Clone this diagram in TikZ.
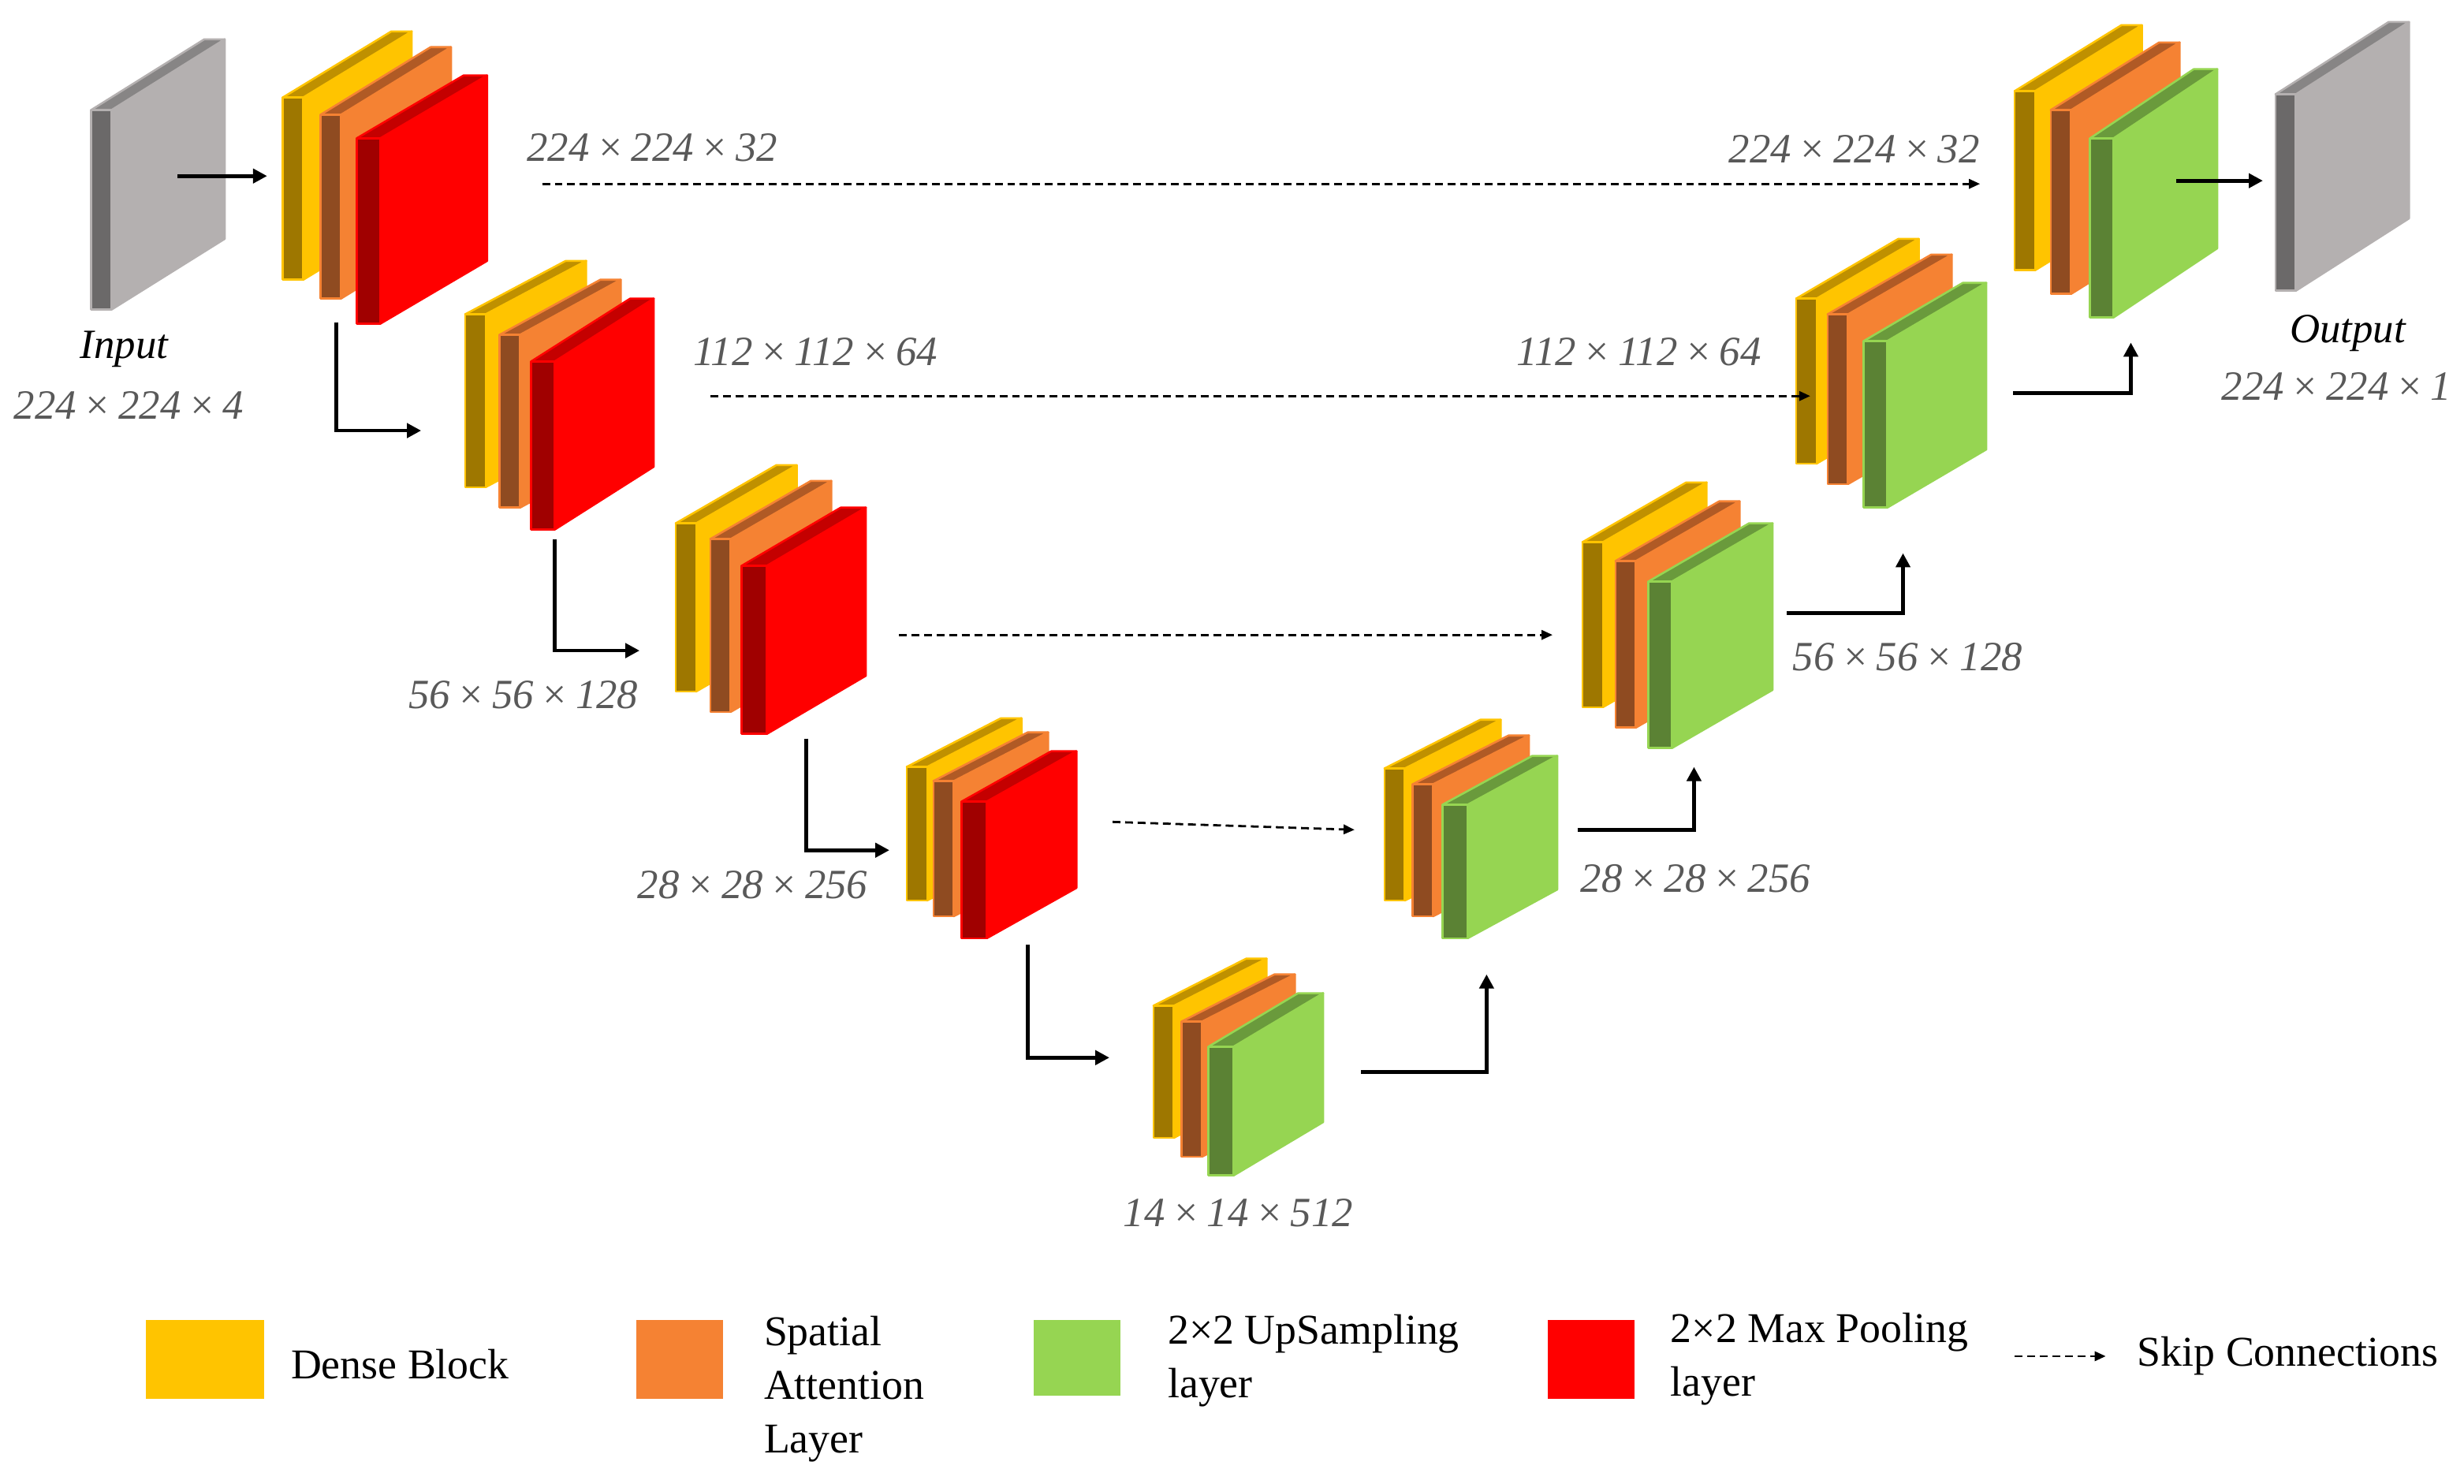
\documentclass[tikz,border=0pt]{standalone}
\usepackage{fontspec}
\setmainfont{Liberation Serif}
\usetikzlibrary{arrows.meta}
\definecolor{yelS}{HTML}{FFC400}\definecolor{yelF}{HTML}{9E7700}\definecolor{yelT}{HTML}{BF9000}
\definecolor{oraS}{HTML}{F58233}\definecolor{oraF}{HTML}{8F4B21}\definecolor{oraT}{HTML}{B05A25}
\definecolor{redS}{HTML}{FF0000}\definecolor{redF}{HTML}{A00000}\definecolor{redT}{HTML}{C40000}
\definecolor{grnS}{HTML}{96D552}\definecolor{grnF}{HTML}{5B8234}\definecolor{grnT}{HTML}{6A9A3C}
\definecolor{gryS}{HTML}{B4B0B0}\definecolor{gryF}{HTML}{6B6969}\definecolor{gryT}{HTML}{878585}
\definecolor{lbl}{HTML}{595959}
% #1 x, #2 ytop, #3 t, #4 h, #5 dx, #6 dy, #7 colour prefix
\newcommand\slab[7]{%
  \filldraw[draw=#7S,fill=#7S,line width=1.3pt,line join=round] (#1+#3,#2) -- (#1+#3+#5,#2-#6) -- (#1+#3+#5,#2+#4-#6) -- (#1+#3,#2+#4) -- cycle;
  \filldraw[draw=#7S,fill=#7T,line width=1.3pt,line join=round] (#1,#2) -- (#1+#3,#2) -- (#1+#3+#5,#2-#6) -- (#1+#5,#2-#6) -- cycle;
  \filldraw[draw=#7S,fill=#7F,line width=1.3pt,line join=round] (#1,#2) rectangle (#1+#3,#2+#4);
}
\begin{document}
\begin{tikzpicture}[x=1pt,y=-1pt,
  flow/.style={-{Triangle[length=9pt,width=9pt]},line width=2.4pt},
  skip/.style={-{Triangle[length=7pt,width=6pt]},line width=1.4pt,dash pattern=on 5pt off 3pt},
  dim/.style={font=\itshape\fontsize{26.5}{28}\selectfont,text=lbl,inner sep=0pt},
  leg/.style={font=\fontsize{27}{34}\selectfont,inner sep=0pt,align=left,anchor=west}]
\useasboundingbox (0,0) rectangle (1568,944);
% input / output
\slab{58}{70}{13}{127}{72}{45}{gry}
\slab{1448}{60}{13}{125}{72}{46}{gry}
% encoder
\slab{180}{62}{13}{116}{69}{42}{yel}
\slab{204}{73}{13}{117}{70}{43}{ora}
\slab{227}{88}{15}{118}{68}{40}{red}
\slab{296}{200}{13}{110}{64}{34}{yel}
\slab{318}{213}{13}{110}{64}{35}{ora}
\slab{338}{230}{15}{107}{63}{40}{red}
\slab{430}{333}{13}{107}{64}{37}{yel}
\slab{452}{343}{13}{110}{64}{37}{ora}
\slab{472}{360}{16}{107}{63}{37}{red}
\slab{577}{488}{13}{85}{60}{31}{yel}
\slab{594}{497}{13}{86}{60}{31}{ora}
\slab{612}{510}{16}{87}{57}{32}{red}
% bottleneck
\slab{734}{640}{13}{84}{59}{30}{yel}
\slab{752}{650}{13}{86}{59}{30}{ora}
\slab{769}{666}{16}{82}{57}{34}{grn}
% decoder
\slab{881}{489}{13}{84}{61}{31}{yel}
\slab{899}{499}{13}{84}{61}{31}{ora}
\slab{918}{512}{16}{85}{57}{31}{grn}
\slab{1007}{345}{13}{105}{66}{38}{yel}
\slab{1028}{357}{13}{106}{66}{38}{ora}
\slab{1049}{370}{15}{106}{64}{37}{grn}
\slab{1143}{190}{13}{105}{65}{38}{yel}
\slab{1163}{200}{13}{108}{66}{38}{ora}
\slab{1186}{217}{15}{106}{63}{37}{grn}
\slab{1282}{58}{13}{114}{68}{42}{yel}
\slab{1305}{70}{13}{117}{69}{43}{ora}
\slab{1330}{88}{15}{114}{66}{44}{grn}
% connector coordinates
\coordinate (i0) at (113,112); \coordinate (i1) at (170,112);
\coordinate (a0) at (214,205); \coordinate (a1) at (268,274);
\coordinate (b0) at (353,343); \coordinate (b1) at (407,414);
\coordinate (c0) at (513,470); \coordinate (c1) at (566,541);
\coordinate (d0) at (654,601); \coordinate (d1) at (706,673);
\coordinate (e0) at (866,682); \coordinate (e1) at (946,620);
\coordinate (f0) at (1004,528); \coordinate (f1) at (1078,488);
\coordinate (g0) at (1137,390); \coordinate (g1) at (1211,352);
\coordinate (h0) at (1281,250); \coordinate (h1) at (1356,218);
\coordinate (o0) at (1385,115); \coordinate (o1) at (1440,115);
\draw[flow] (i0) -- (i1);
\draw[flow] (a0) |- (a1);
\draw[flow] (b0) |- (b1);
\draw[flow] (c0) |- (c1);
\draw[flow] (d0) |- (d1);
\draw[flow] (e0) -| (e1);
\draw[flow] (f0) -| (f1);
\draw[flow] (g0) -| (g1);
\draw[flow] (h0) -| (h1);
\draw[flow] (o0) -- (o1);
% skips
\coordinate (s1a) at (345,117); \coordinate (s1b) at (1260,117);
\coordinate (s2a) at (452,252); \coordinate (s2b) at (1152,252);
\coordinate (s3a) at (572,404); \coordinate (s3b) at (988,404);
\coordinate (s4a) at (708,523); \coordinate (s4b) at (862,528);
\draw[skip] (s1a) -- (s1b);
\draw[skip] (s2a) -- (s2b);
\draw[skip] (s3a) -- (s3b);
\draw[skip] (s4a) -- (s4b);
% labels
\node[dim] (l1) at (415,94) {224\,×\,224\,×\,32};
\node[dim] (l2) at (1180,95) {224\,×\,224\,×\,32};
\node[dim] (l3) at (519,224) {112\,×\,112\,×\,64};
\node[dim] (l4) at (1043,224) {112\,×\,112\,×\,64};
\node[dim] (l5) at (333,442) {56\,×\,56\,×\,128};
\node[dim] (l6) at (1214,418) {56\,×\,56\,×\,128};
\node[dim] (l7) at (479,563) {28\,×\,28\,×\,256};
\node[dim] (l8) at (1079,559) {28\,×\,28\,×\,256};
\node[dim] (l9) at (788,772) {14\,×\,14\,×\,512};
\node[dim,text=black] (in) at (79,222) {Input};
\node[dim] (inl) at (82,258) {224\,×\,224\,×\,4};
\node[dim,text=black] (out) at (1494,212) {Output};
\node[dim] (outl) at (1487,246) {224\,×\,224\,×\,1};
% legend
\fill[yelS] (93,840) rectangle (168,890);
\fill[oraS] (405,840) rectangle (460,890);
\fill[grnS] (658,840) rectangle (713,888);
\fill[redS] (985,840) rectangle (1040,890);
\node[leg] (t1) at (185,868) {Dense Block};
\node[leg] (t2) at (486,884) {Spatial\\Attention\\Layer};
\node[leg] (t3) at (743,866) {2×2 UpSampling\\layer};
\node[leg] (t4) at (1063,865) {2×2 Max Pooling\\layer};
\coordinate (k0) at (1282,863); \coordinate (k1) at (1340,863);
\draw[skip] (k0) -- (k1);
\node[leg] (t5) at (1360,863) {Skip Connections};
\end{tikzpicture}
\end{document}
